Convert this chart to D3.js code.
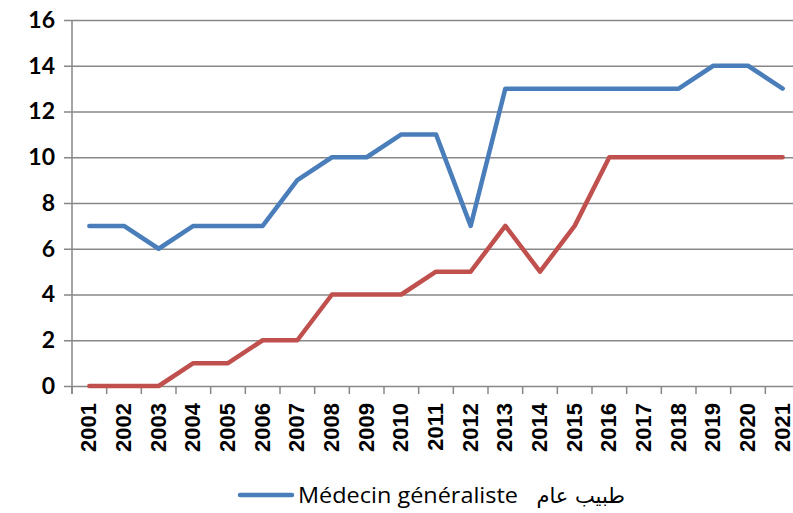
<!DOCTYPE html>
<html>
<head>
<meta charset="utf-8">
<script src="https://cdn.jsdelivr.net/npm/d3@7"></script>
<style>
  body { margin: 0; background: #fff; }
  svg { display: block; }
</style>
</head>
<body>
<svg id="chart_svg" width="793" height="513"></svg>
<script>
// data
const years = ['2001','2002','2003','2004','2005','2006','2007','2008','2009','2010','2011',
               '2012','2013','2014','2015','2016','2017','2018','2019','2020','2021'];
const generalistes = [7, 7, 6, 7, 7, 7, 9, 10, 10, 11, 11, 7, 13, 13, 13, 13, 13, 13, 14, 14, 13];
const secondSeries = [0, 0, 0, 1, 1, 2, 2, 4, 4, 4, 5, 5, 7, 5, 7, 10, 10, 10, 10, 10, 10];
const yTicks = [0, 2, 4, 6, 8, 10, 12, 14, 16];
const legendLatin = 'Médecin généraliste';
const legendArabic = 'طبيب عام';

function drawChart() {
    const svg = d3.select('#chart_svg');
    const left = 72, right = 800, top = 20, bottom = 386;
    const gridColor = '#878787';

    const xScale = d3.scaleBand()
        .domain(years)
        .range([left, right]);
    const yScale = d3.scaleLinear()
        .domain([0, 16])
        .range([bottom, top]);

    // horizontal gridlines + y ticks
    svg.append('g')
        .attr('transform', `translate(${left},0)`)
        .call(d3.axisLeft(yScale).tickValues(yTicks).tickSize(-(right - left)).tickSizeOuter(0).tickPadding(17))
        .call(g => g.select('.domain').remove())
        .call(g => g.selectAll('.tick line')
            .attr('x1', -8)
            .attr('stroke', gridColor)
            .attr('stroke-width', 1.5))
        .call(g => g.selectAll('.tick text')
            .style('font-family', 'Lato, sans-serif')
            .style('font-weight', 'bold')
            .style('font-size', '23px')
            .attr('fill', '#000'));

    // y axis line
    svg.append('line')
        .attr('x1', left).attr('x2', left)
        .attr('y1', top).attr('y2', bottom + 8)
        .attr('stroke', gridColor)
        .attr('stroke-width', 1.5);

    // x axis: ticks at band boundaries
    const bounds = years.map(y => xScale(y)).concat([xScale(years[years.length - 1]) + xScale.bandwidth()]);
    svg.append('g')
        .selectAll('line')
        .data(bounds)
        .enter()
        .append('line')
        .attr('x1', d => d).attr('x2', d => d)
        .attr('y1', bottom).attr('y2', bottom + 8)
        .attr('stroke', gridColor)
        .attr('stroke-width', 1.5);

    svg.append('g')
        .selectAll('text')
        .data(years)
        .enter()
        .append('text')
        .attr('transform', d => `translate(${xScale(d) + xScale.bandwidth() / 2 + 7},403) rotate(-90)`)
        .style('text-anchor', 'end')
        .style('font-family', '"Liberation Sans", Arial, sans-serif')
        .style('font-weight', 'bold')
        .style('font-size', '22px')
        .text(d => d);

    const line = d3.line()
        .x((d, i) => xScale(years[i]) + xScale.bandwidth() / 2)
        .y(d => yScale(d));

    svg.append('path')
        .datum(secondSeries)
        .attr('d', line)
        .attr('fill', 'none')
        .attr('stroke', '#c0504d')
        .attr('stroke-width', 4.5)
        .attr('stroke-linejoin', 'round')
        .attr('stroke-linecap', 'round');

    svg.append('path')
        .datum(generalistes)
        .attr('d', line)
        .attr('fill', 'none')
        .attr('stroke', '#4a7ebb')
        .attr('stroke-width', 4.5)
        .attr('stroke-linejoin', 'round')
        .attr('stroke-linecap', 'round');

    // legend
    svg.append('line')
        .attr('x1', 240).attr('x2', 292)
        .attr('y1', 495).attr('y2', 495)
        .attr('stroke', '#4a7ebb')
        .attr('stroke-width', 4.5)
        .attr('stroke-linecap', 'round');
    svg.append('text')
        .attr('x', 298)
        .attr('y', 503)
        .attr('textLength', 220)
        .attr('lengthAdjust', 'spacingAndGlyphs')
        .style('font-family', '"Open Sans", sans-serif')
        .style('font-size', '22px')
        .text(legendLatin);
    svg.append('text')
        .attr('x', 625)
        .attr('y', 503)
        .attr('direction', 'rtl')
        .style('text-anchor', 'start')
        .style('font-family', '"DejaVu Sans", sans-serif')
        .style('font-size', '21px')
        .text(legendArabic);
}

drawChart();
</script>
</body>
</html>
